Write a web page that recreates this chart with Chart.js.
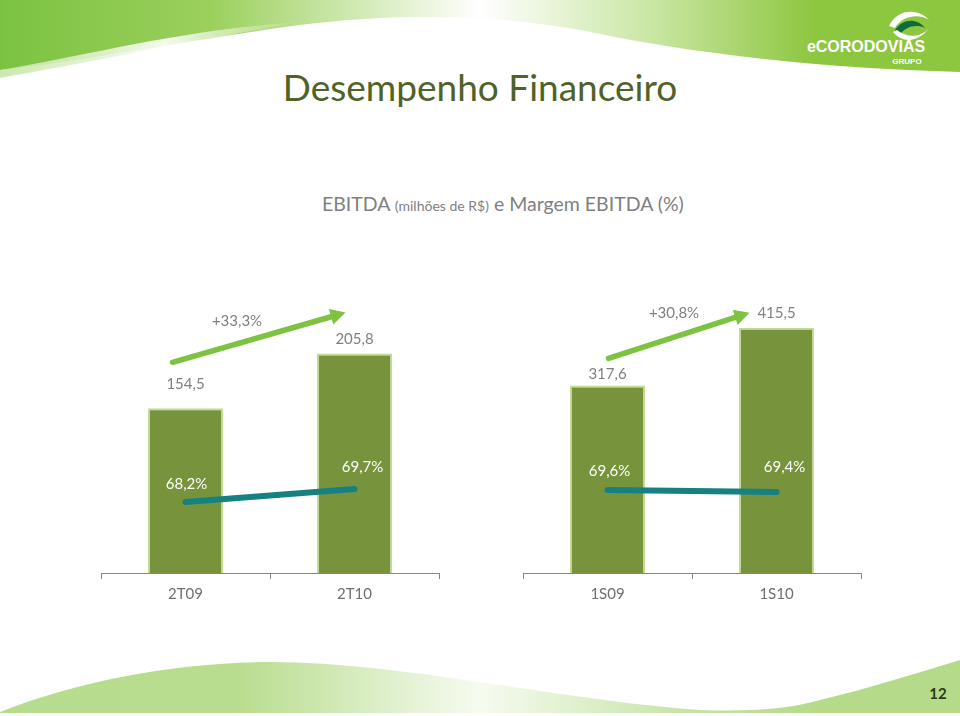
<!DOCTYPE html>
<html><head><meta charset="utf-8">
<script src="https://cdn.jsdelivr.net/npm/chart.js@4/dist/chart.umd.min.js"></script>
<style>
html,body{margin:0;padding:0}
body{width:960px;height:716px;overflow:hidden;background:#fff;position:relative;font-family:Lato,"Noto Sans",sans-serif}
.abs{position:absolute}
#title{left:0;width:960px;top:62px;text-align:center;font-size:37px;color:#4f6228;line-height:50px;font-weight:400}
#sub{left:322px;top:192px;font-size:19.5px;color:#7f7f7f;white-space:nowrap;line-height:24px}
#sub small{font-size:14px}
#page{left:920px;top:684px;width:36px;text-align:center;font-size:15px;font-weight:bold;color:#2f3a1a}
canvas{position:absolute}
</style></head>
<body>
<svg class="abs" style="left:0;top:0" width="960" height="716">
  <defs>
    <linearGradient id="hg" x1="0" y1="0" x2="1" y2="0">
      <stop offset="0" stop-color="#7cc242"/>
      <stop offset="0.22" stop-color="#9bd05c"/>
      <stop offset="0.5" stop-color="#ffffff"/>
      <stop offset="0.68" stop-color="#c9e6a3"/>
      <stop offset="0.85" stop-color="#8dc63f"/>
      <stop offset="1" stop-color="#8dc63f"/>
    </linearGradient>
    <linearGradient id="hg2" x1="0" y1="0" x2="1" y2="0">
      <stop offset="0" stop-color="#c7e6a6"/>
      <stop offset="0.35" stop-color="#e6f3d6"/>
      <stop offset="0.55" stop-color="#ffffff"/>
      <stop offset="1" stop-color="#ffffff" stop-opacity="0"/>
    </linearGradient>
    <linearGradient id="fg" x1="0" y1="0" x2="1" y2="0">
      <stop offset="0" stop-color="#b6dc8d"/>
      <stop offset="0.25" stop-color="#b9dd8f"/>
      <stop offset="0.5" stop-color="#f6fbf0"/>
      <stop offset="0.72" stop-color="#c5e3a3"/>
      <stop offset="0.85" stop-color="#b5db8a"/>
      <stop offset="1" stop-color="#b5db8a"/>
    </linearGradient>
  </defs>
  <path d="M0,0 H960 V72 C820,68 700,55 580,30 C480,12 380,15 300,25 C200,38 90,60 0,70 Z" fill="url(#hg)"/>
  <path d="M0,70 C90,55 180,30 300,22 C200,40 90,62 0,78 Z" fill="url(#hg2)" opacity="0.9"/>
  <path d="M0,712 C80,680 180,662 270,662 C400,662 560,700 700,710 C760,712 790,708 820,700 C870,688 920,672 960,660 V713 H0 Z" fill="url(#fg)"/>
  <g transform="translate(907,24)">
    <path d="M-18,2 C-10,-16 12,-16 22,-4 C14,-10 -4,-10 -12,4 Z" fill="#ffffff"/>
    <path d="M-12,6 C-4,-6 10,-6 18,4 C10,0 -2,2 -8,12 Z" fill="#0f6b3a"/>
    <path d="M-14,8 C-4,20 12,18 22,4 C14,14 0,14 -10,6 Z" fill="#ffffff"/>
  </g>
  <text x="866" y="52" text-anchor="middle" font-family="Liberation Sans,Arial,sans-serif" font-weight="bold" font-size="16" fill="#ffffff">eCORODOVIAS</text>
  <text x="907" y="64" text-anchor="middle" font-family="Liberation Sans,Arial,sans-serif" font-weight="bold" font-size="8" fill="#ffffff">GRUPO</text>
</svg>
<div id="title" class="abs">Desempenho Financeiro</div>
<div id="sub" class="abs">EBITDA <small>(milhões de R$)</small> e Margem EBITDA (%)</div>
<div id="page" class="abs">12</div>
<canvas id="cL" width="346" height="368" style="left:97px;top:250px;width:346px;height:368px"></canvas>
<canvas id="cR" width="346" height="368" style="left:519px;top:250px;width:346px;height:368px"></canvas>
<script>
// ---- data ----
const leftCategories = ['2T09', '2T10'];
const leftEbitda = [154.5, 205.8];
const leftMargin = [68.2, 69.7];
const leftGrowth = '+33,3%';

const rightCategories = ['1S09', '1S10'];
const rightEbitda = [317.6, 415.5];
const rightMargin = [69.6, 69.4];
const rightGrowth = '+30,8%';

// ---- styles ----
const BAR = '#77933c', BAR_EDGE = '#c3dc95', LINE = '#178083', ARROW = '#7ec242';
const LABEL_GRAY = '#7f7f7f', FONT = 'Lato, "Noto Sans", sans-serif';
const fmt = v => v.toFixed(1).replace('.', ',');

function annot(cfg) {
  return {
    id: 'annot',
    afterDatasetsDraw(chart) {
      const ctx = chart.ctx;
      const bars = chart.getDatasetMeta(0).data;
      const pts = chart.getDatasetMeta(1).data;
      const ebitda = chart.data.datasets[0].data;
      const margin = chart.data.datasets[1].data;
      ctx.save();
      ctx.textAlign = 'center';
      ctx.textBaseline = 'middle';
      ctx.font = '15px ' + FONT;
      ctx.fillStyle = LABEL_GRAY;
      bars.forEach((b, i) => ctx.fillText(fmt(ebitda[i]), b.x, b.y - cfg.valOff[i]));
      ctx.fillStyle = '#ffffff';
      pts.forEach((p, i) => ctx.fillText(fmt(margin[i]) + '%', p.x + cfg.mOff[i][0], p.y - cfg.mOff[i][1]));
      // growth arrow
      const x1 = bars[0].x + cfg.a0[0], y1 = bars[0].y + cfg.a0[1];
      const x2 = bars[1].x + cfg.a1[0], y2 = bars[1].y + cfg.a1[1];
      const ang = Math.atan2(y2 - y1, x2 - x1);
      const head = 15, hw = 8;
      const bx = x2 - head * Math.cos(ang), by = y2 - head * Math.sin(ang);
      ctx.strokeStyle = ARROW; ctx.fillStyle = ARROW;
      ctx.lineWidth = 5.5; ctx.lineCap = 'round';
      ctx.beginPath(); ctx.moveTo(x1, y1); ctx.lineTo(bx, by); ctx.stroke();
      ctx.beginPath();
      ctx.moveTo(x2, y2);
      ctx.lineTo(bx + hw * Math.sin(ang), by - hw * Math.cos(ang));
      ctx.lineTo(bx - hw * Math.sin(ang), by + hw * Math.cos(ang));
      ctx.closePath(); ctx.fill();
      ctx.fillStyle = LABEL_GRAY;
      ctx.fillText(cfg.growth, (x1 + x2) / 2 + cfg.gOff[0], (y1 + y2) / 2 + cfg.gOff[1]);
      ctx.restore();
    }
  };
}

function makeChart(id, cats, ebitda, margin, cfg) {
  return new Chart(document.getElementById(id), {
    type: 'bar',
    data: {
      labels: cats,
      datasets: [
        { type: 'bar', data: ebitda, yAxisID: 'y', order: 2,
          backgroundColor: BAR, borderColor: BAR_EDGE, borderWidth: 2,
          categoryPercentage: 0.5, barPercentage: 0.89 },
        { type: 'line', data: margin, yAxisID: 'y2', order: 1,
          borderColor: LINE, borderWidth: 6, borderCapStyle: 'round',
          pointRadius: 0, fill: false, tension: 0 }
      ]
    },
    options: {
      responsive: false, animation: false,
      layout: { padding: { left: 4, right: 4, top: 0, bottom: 0 } },
      plugins: { legend: { display: false }, tooltip: { enabled: false } },
      scales: {
        x: {
          offset: true,
          grid: { display: true, drawOnChartArea: false, drawTicks: true, tickLength: 6, color: '#868686', offset: true },
          border: { display: true, color: '#868686', width: 1 },
          ticks: { color: '#6f6f6f', font: { size: 15, family: FONT }, padding: 6 },
          afterFit: s => { s.height = 45; }
        },
        y: { display: false, min: 0, max: cfg.yMax },
        y2: { display: false, min: cfg.y2Min, max: cfg.y2Max }
      }
    },
    plugins: [annot(cfg)]
  });
}

makeChart('cL', leftCategories, leftEbitda, leftMargin, {
  yMax: 303, y2Min: 60, y2Max: 97.27, growth: leftGrowth,
  valOff: [24, 14], mOff: [[1, 18], [8, 22]],
  a0: [-13, -46], a1: [-9, -41], gOff: [-22, -16]
});
makeChart('cR', rightCategories, rightEbitda, rightMargin, {
  yMax: 547, y2Min: 61.3, y2Max: 93.6, growth: rightGrowth,
  valOff: [11, 14], mOff: [[2, 19], [8, 25]],
  a0: [1, -27], a1: [-27, -15], gOff: [-5, -22]
});
</script>
</body></html>
